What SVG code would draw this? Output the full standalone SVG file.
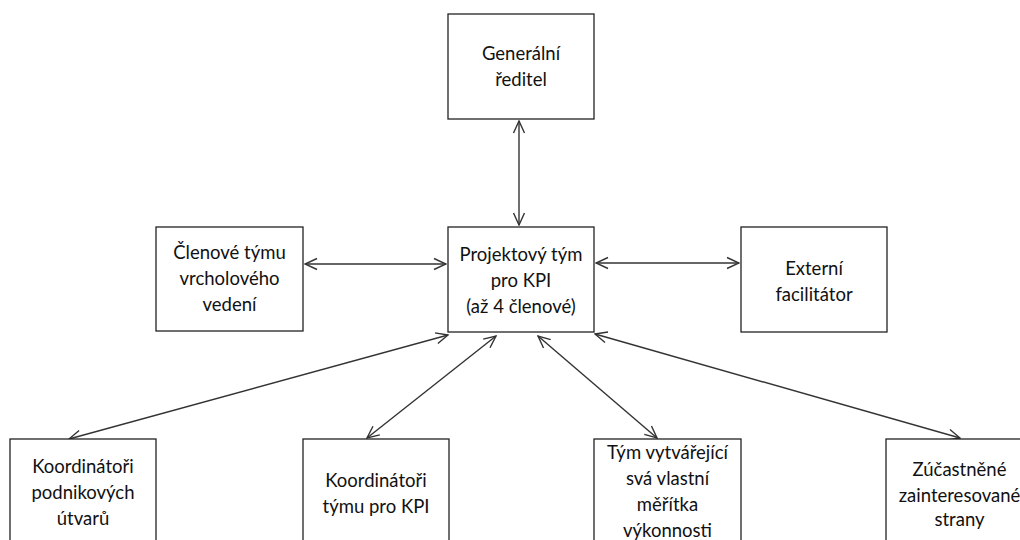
<svg xmlns="http://www.w3.org/2000/svg" width="1020" height="540" viewBox="0 0 1020 540">
<style>
.box{fill:#fff;stroke:#222;stroke-width:1.3}
.lbl{font-family:Lato,"Liberation Sans",sans-serif;font-size:18.5px;fill:#111;text-anchor:middle}
.con{stroke:#333;stroke-width:1.4;fill:none;marker-start:url(#ah);marker-end:url(#ah)}
</style>
<defs>
<marker id="ah" viewBox="0 0 14 14" refX="13" refY="7" markerWidth="14" markerHeight="14" markerUnits="userSpaceOnUse" orient="auto-start-reverse">
<path d="M1,1.5 L13,7 L1,12.5" fill="none" stroke="#333" stroke-width="1.4"/>
</marker>
</defs>
<rect width="1020" height="540" fill="#fff"/>
<g id="connectors">
<line class="con" x1="519" y1="121" x2="519" y2="225"/>
<line class="con" x1="305" y1="264" x2="446" y2="264"/>
<line class="con" x1="596" y1="263" x2="739" y2="263"/>
<line class="con" x1="448" y1="335" x2="69" y2="439"/>
<line class="con" x1="496" y1="336" x2="367" y2="438"/>
<line class="con" x1="538" y1="336" x2="657" y2="438"/>
<line class="con" x1="595" y1="334" x2="960" y2="438"/>
</g>
<g id="n-generalni">
<rect class="box" x="448" y="14" width="146" height="105"/>
<text class="lbl" x="521" y="60">Generální</text>
<text class="lbl" x="521" y="86">ředitel</text>
</g>
<g id="n-clenove">
<rect class="box" x="156" y="227" width="147" height="104"/>
<text class="lbl" x="229.5" y="259">Členové týmu</text>
<text class="lbl" x="229.5" y="285">vrcholového</text>
<text class="lbl" x="229.5" y="311">vedení</text>
</g>
<g id="n-projekt">
<rect class="box" x="448" y="227" width="146" height="105"/>
<text class="lbl" x="521" y="261">Projektový tým</text>
<text class="lbl" x="521" y="287">pro KPI</text>
<text class="lbl" x="521" y="313">(až 4 členové)</text>
</g>
<g id="n-externi">
<rect class="box" x="741" y="227" width="146" height="105"/>
<text class="lbl" x="814" y="275">Externí</text>
<text class="lbl" x="814" y="301">facilitátor</text>
</g>
<g id="n-koord1">
<rect class="box" x="10" y="439" width="146" height="105"/>
<text class="lbl" x="83" y="473">Koordinátoři</text>
<text class="lbl" x="83" y="499">podnikových</text>
<text class="lbl" x="83" y="525">útvarů</text>
</g>
<g id="n-koord2">
<rect class="box" x="303" y="439" width="146" height="105"/>
<text class="lbl" x="376" y="487">Koordinátoři</text>
<text class="lbl" x="376" y="513">týmu pro KPI</text>
</g>
<g id="n-tym">
<rect class="box" x="594" y="439" width="147" height="105"/>
<text class="lbl" x="667.5" y="459">Tým vytvářející</text>
<text class="lbl" x="667.5" y="485">svá vlastní</text>
<text class="lbl" x="667.5" y="511">měřítka</text>
<text class="lbl" x="667.5" y="537">výkonnosti</text>
</g>
<g id="n-zucastnene">
<rect class="box" x="886" y="439" width="147" height="105"/>
<text class="lbl" x="959.5" y="476">Zúčastněné</text>
<text class="lbl" x="959.5" y="502">zainteresované</text>
<text class="lbl" x="959.5" y="526">strany</text>
</g>
</svg>
